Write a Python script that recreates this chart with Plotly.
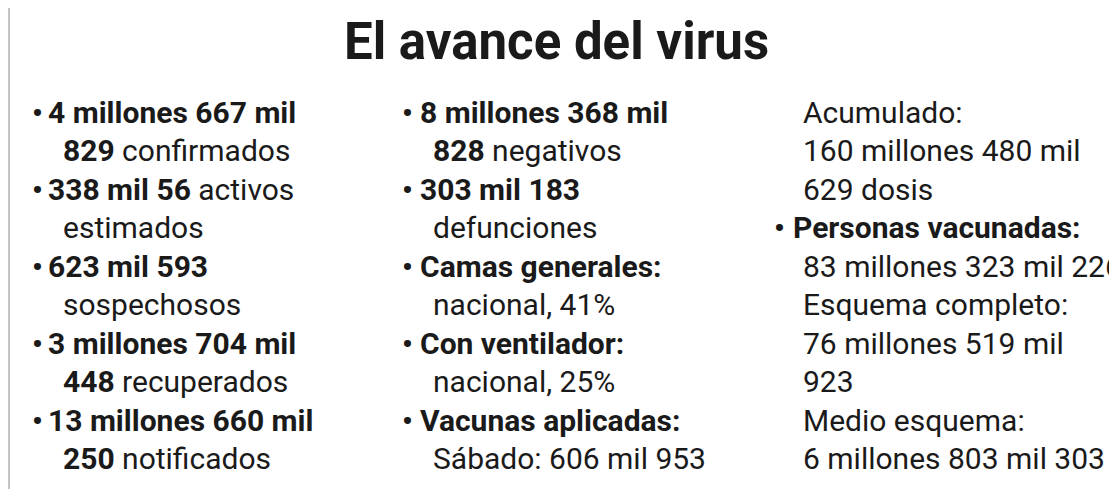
import plotly.graph_objects as go

title = "El avance del virus"

col1 = [
    ("•", "<b>4 millones 667 mil</b>"),
    ("", "<b>829</b> confirmados"),
    ("•", "<b>338 mil 56</b> activos"),
    ("", "estimados"),
    ("•", "<b>623 mil 593</b>"),
    ("", "sospechosos"),
    ("•", "<b>3 millones 704 mil</b>"),
    ("", "<b>448</b> recuperados"),
    ("•", "<b>13 millones 660 mil</b>"),
    ("", "<b>250</b> notificados"),
]
col2 = [
    ("•", "<b>8 millones 368 mil</b>"),
    ("", "<b>828</b> negativos"),
    ("•", "<b>303 mil 183</b>"),
    ("", "defunciones"),
    ("•", "<b>Camas generales:</b>"),
    ("", "nacional, 41%"),
    ("•", "<b>Con ventilador:</b>"),
    ("", "nacional, 25%"),
    ("•", "<b>Vacunas aplicadas:</b>"),
    ("", "Sábado: 606 mil 953"),
]
col3 = [
    ("", "Acumulado:"),
    ("", "160 millones 480 mil"),
    ("", "629 dosis"),
    ("•", "<b>Personas vacunadas:</b>"),
    ("", "83 millones 323 mil 226"),
    ("", "Esquema completo:"),
    ("", "76 millones 519 mil"),
    ("", "923"),
    ("", "Medio esquema:"),
    ("", "6 millones 803 mil 303"),
]

fig = go.Figure()
fig.add_trace(go.Scatter(x=[], y=[]))
FONT = "Roboto"
C = "#1a1a1a"
SZ = 30
ann = []
ann.append(dict(x=548, y=33, text="<b>%s</b>" % title, showarrow=False,
                font=dict(family=FONT, size=51, color=C), xanchor="center", yanchor="middle"))
y0, dy = 104, 38.5
cols = [(col1, 22, 38, 53), (col2, 392, 410, 423), (col3, 764, 783, 793)]
for lines, bx, tx, ix in cols:
    for i, (b, t) in enumerate(lines):
        y = y0 + i * dy
        if b:
            ann.append(dict(x=bx, y=y, text="<b>•</b>", showarrow=False, xanchor="left",
                            yanchor="middle", font=dict(family=FONT, size=SZ, color=C)))
            x = tx
        else:
            x = ix
        ann.append(dict(x=x, y=y, text=t, showarrow=False, xanchor="left", yanchor="middle",
                        font=dict(family=FONT, size=SZ, color=C)))

fig.update_layout(
    width=1117, height=489, margin=dict(l=0, r=0, t=0, b=0),
    paper_bgcolor="white", plot_bgcolor="white", showlegend=False,
    xaxis=dict(range=[0, 1117], visible=False, fixedrange=True),
    yaxis=dict(range=[489, 0], visible=False, fixedrange=True),
    annotations=ann,
    shapes=[dict(type="line", x0=1, x1=1, y0=0, y1=489, line=dict(color="#888", width=1))],
)
fig.write_html("out.html")
